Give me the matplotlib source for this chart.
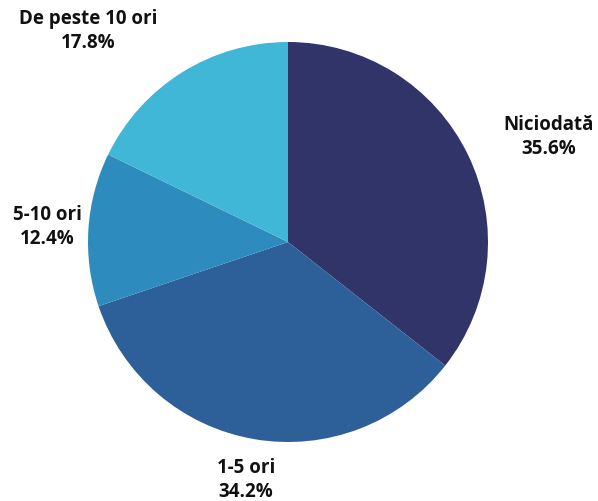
import matplotlib
matplotlib.use('Agg')
import matplotlib.pyplot as plt

labels = ['Niciodată', '1-5 ori', '5-10 ori', 'De peste 10 ori']
shares = [35.6, 34.2, 12.4, 17.8]
colors = ['#313469', '#2d5f98', '#2e8bbd', '#41b7d7']

# where each label sits, in pie-radius units
label_pos = [(1.305, 0.525), (-0.21, -1.19), (-1.205, 0.075), (-1.0, 1.055)]

plt.rcParams['font.family'] = ['Open Sans', 'DejaVu Sans']

fig = plt.figure(figsize=(5.98, 5.01), dpi=100)
ax = fig.add_axes([0, 0, 1, 1])
ax.pie(shares, colors=colors, startangle=90, counterclock=False,
       radius=1, wedgeprops=dict(linewidth=0))

for lab, val, (x, y) in zip(labels, shares, label_pos):
    ax.text(x, y, f'{lab}\n{val:.1f}%', ha='center', va='center',
            fontsize=13.5, fontweight='bold', color='#111111', linespacing=1.3)

ax.set_xlim(-1.44, 1.55)
ax.set_ylim(-1.295, 1.21)
ax.axis('off')
fig.savefig('out.png', dpi=100)
